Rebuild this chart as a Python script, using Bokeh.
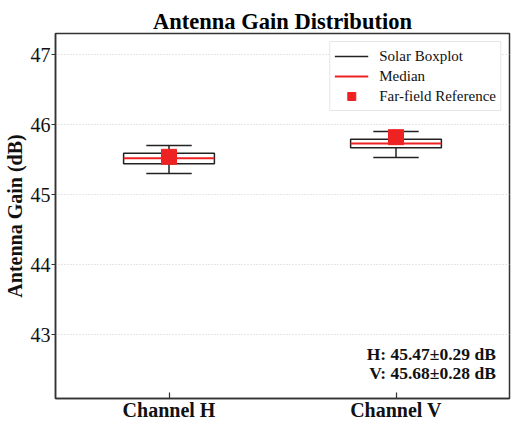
from bokeh.plotting import figure
from bokeh.models import (Range1d, FixedTicker, Legend, LegendItem, Label)
from bokeh.embed import file_html
from bokeh.resources import INLINE

# ---- data ----
channels = ["Channel H", "Channel V"]
positions = [1, 2]
whisker_low = [45.30, 45.53]
q1 = [45.44, 45.67]
median = [45.52, 45.73]
q3 = [45.59, 45.79]
whisker_high = [45.70, 45.90]
far_field = [45.54, 45.82]
means = [45.47, 45.68]
stds = [0.29, 0.28]
stat_names = ["H", "V"]
y_ticks = [43, 44, 45, 46, 47]

SERIF = "Liberation Serif"
RED = "#ee2222"
BOX_W = 0.4
CAP_W = 0.2

p = figure(frame_width=454, frame_height=365, output_backend="svg",
           toolbar_location=None,
           x_range=Range1d(0.5, 2.5), y_range=Range1d(42.09, 47.3),
           min_border_left=49, min_border_right=2, min_border_top=33,
           min_border_bottom=20)

p.title.text = "Antenna Gain Distribution"
p.title.text_font = SERIF
p.title.text_font_size = "22.5px"
p.title.text_font_style = "bold"
p.title.text_color = "#000000"
p.title.align = "center"
p.title.offset = 0
p.title.standoff = 0

# whiskers
wh = p.segment(x0=positions, y0=q3, x1=positions, y1=whisker_high,
               line_color="#222222", line_width=1.5)
p.segment(x0=positions, y0=q1, x1=positions, y1=whisker_low,
          line_color="#222222", line_width=1.5)
cx0 = [x - CAP_W / 2 for x in positions]
cx1 = [x + CAP_W / 2 for x in positions]
p.segment(x0=cx0, y0=whisker_high, x1=cx1, y1=whisker_high,
          line_color="#222222", line_width=1.5)
p.segment(x0=cx0, y0=whisker_low, x1=cx1, y1=whisker_low,
          line_color="#222222", line_width=1.5)

# boxes
p.vbar(x=positions, width=BOX_W, bottom=q1, top=q3, fill_color="white",
       line_color="#222222", line_width=1.5)

# medians
mx0 = [x - BOX_W / 2 for x in positions]
mx1 = [x + BOX_W / 2 for x in positions]
med = p.segment(x0=mx0, y0=median, x1=mx1, y1=median, line_color=RED, line_width=2)

# far-field reference
ff = p.scatter(x=positions, y=far_field, marker="square", size=15,
               fill_color=RED, line_color=RED)

legend = Legend(items=[LegendItem(label="Solar Boxplot", renderers=[wh]),
                       LegendItem(label="Median", renderers=[med]),
                       LegendItem(label="Far-field Reference", renderers=[ff])],
                location="top_right")
legend.label_text_font = SERIF
legend.label_text_font_size = "15px"
legend.label_text_color = "#111111"
legend.glyph_width = 34
legend.glyph_height = 20
legend.label_height = 20
legend.label_standoff = 11
legend.spacing = 0
legend.padding = 4
legend.margin = 8
legend.border_line_color = "#cccccc"
legend.border_line_width = 1
legend.background_fill_alpha = 0.9
p.add_layout(legend)

# stats annotation
ys = [42.73, 42.46]
for name, m, s, yy in zip(stat_names, means, stds, ys):
    p.add_layout(Label(x=2.44, y=yy, text=f"{name}: {m:.2f}\u00b1{s:.2f} dB",
                       text_align="right", text_baseline="middle",
                       text_font=SERIF, text_font_size="17.5px",
                       text_font_style="bold", text_color="#111111"))

# axes
p.xaxis.ticker = FixedTicker(ticks=positions)
p.xaxis.major_label_overrides = {pos: c for pos, c in zip(positions, channels)}
p.xaxis.major_label_text_font = SERIF
p.xaxis.major_label_text_font_size = "20px"
p.xaxis.major_label_text_font_style = "bold"
p.xaxis.major_label_text_color = "#111111"
p.xaxis.major_label_standoff = 0
p.xaxis.major_tick_in = 6
p.xaxis.major_tick_out = 0
p.xaxis.minor_tick_line_color = None

p.yaxis.ticker = FixedTicker(ticks=y_ticks)
p.yaxis.major_label_text_font = SERIF
p.yaxis.major_label_text_font_size = "20px"
p.yaxis.major_label_text_color = "#111111"
p.yaxis.major_label_standoff = 1
p.yaxis.major_tick_in = 0
p.yaxis.major_tick_out = 4
p.yaxis.minor_tick_line_color = None
p.yaxis.axis_label = "Antenna Gain (dB)"
p.yaxis.axis_label_text_font = SERIF
p.yaxis.axis_label_text_font_size = "20px"
p.yaxis.axis_label_text_font_style = "bold"
p.yaxis.axis_label_text_color = "#111111"
p.yaxis.axis_label_standoff = 2

for ax in (p.xaxis, p.yaxis):
    ax.axis_line_color = "#333333"
    ax.axis_line_width = 1.5
    ax.major_tick_line_color = "#333333"
    ax.major_tick_line_width = 1.2

p.outline_line_color = "#333333"
p.outline_line_width = 1.5
p.xgrid.grid_line_color = None
p.ygrid.grid_line_color = "#cccccc"
p.ygrid.grid_line_dash = "1 2"
p.ygrid.grid_line_width = 1

open("out.html", "w").write(file_html(p, INLINE))
